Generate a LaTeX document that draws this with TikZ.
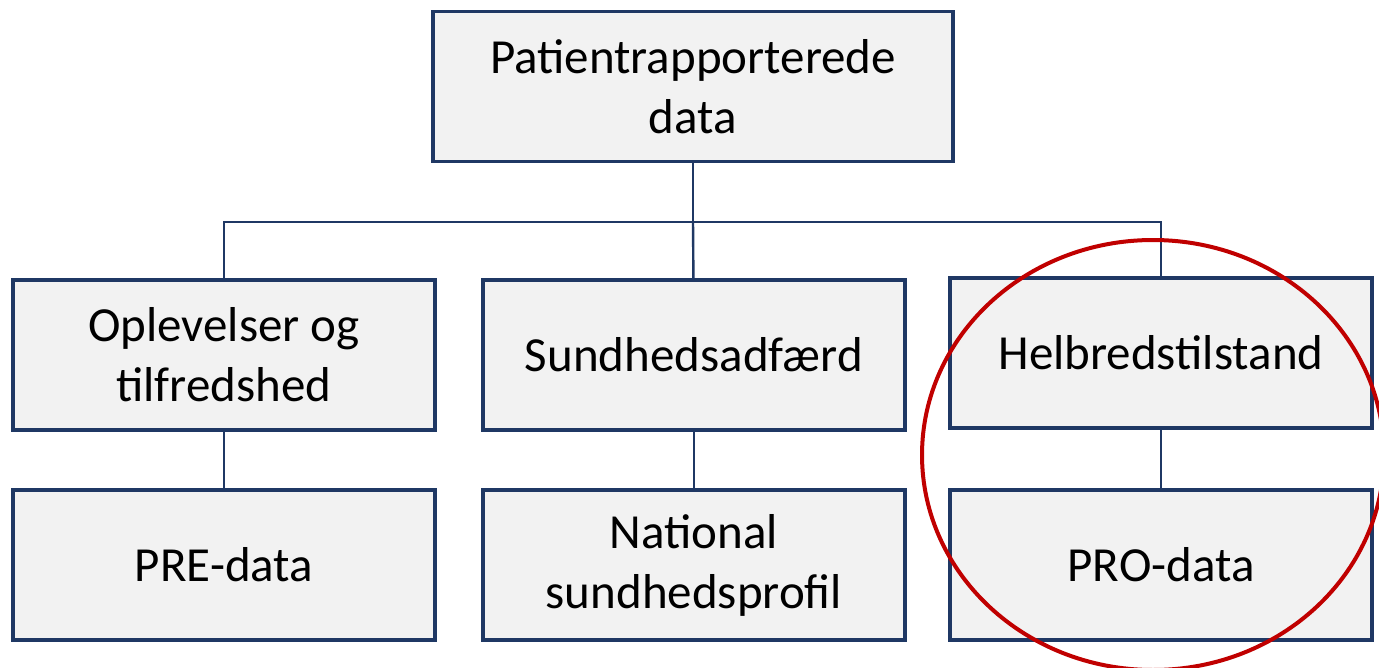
\documentclass[tikz,border=0pt]{standalone}
\usepackage{fontspec}
\setmainfont{Carlito}
\definecolor{boxblue}{HTML}{1F3864}
\definecolor{boxgray}{HTML}{F2F2F2}
\definecolor{ringred}{HTML}{C00000}
\tikzset{
	databox/.style={draw=boxblue,line width=1.6pt,fill=boxgray,minimum width=211pt,minimum height=75pt,align=center,inner sep=0pt,font=\fontsize{24.5}{30}\selectfont},
	link/.style={draw=boxblue,line width=1.2pt}
}
\begin{document}
\begin{tikzpicture}[x=0.5pt,y=-0.5pt]
		\useasboundingbox (0,0) rectangle (1379,668);
		
		\node[databox,minimum width=260pt] (top) at (693,86.5) {Patientrapporterede\\data};
		
		\node[databox] (opl) at (224,355) {Oplevelser og\\tilfredshed};
		\node[databox] (sund) at (694,355) {Sundhedsadfærd};
		\node[databox] (helb) at (1161,353) {Helbredstilstand};
		
		\node[databox] (pre) at (224,565) {PRE-data};
		\node[databox] (nat) at (694,565) {National\\sundhedsprofil};
		\node[databox] (pro) at (1161,565) {PRO-data};
		
		\coordinate (bus) at (693,222);
		\draw[link] (top) -- (bus);
		\draw[link] (opl.north) |- (bus) -| (helb.north);
		\draw[link] (bus) -- (sund);
		
		\draw[link] (opl) -- (pre);
		\draw[link] (sund) -- (nat);
		\draw[link] (helb) -- (pro);
		
		% markering af PRO
		\draw[ringred,line width=2pt] (1153,455) ellipse [x radius=115.5pt,y radius=107.5pt];
	\end{tikzpicture}
\end{document}
